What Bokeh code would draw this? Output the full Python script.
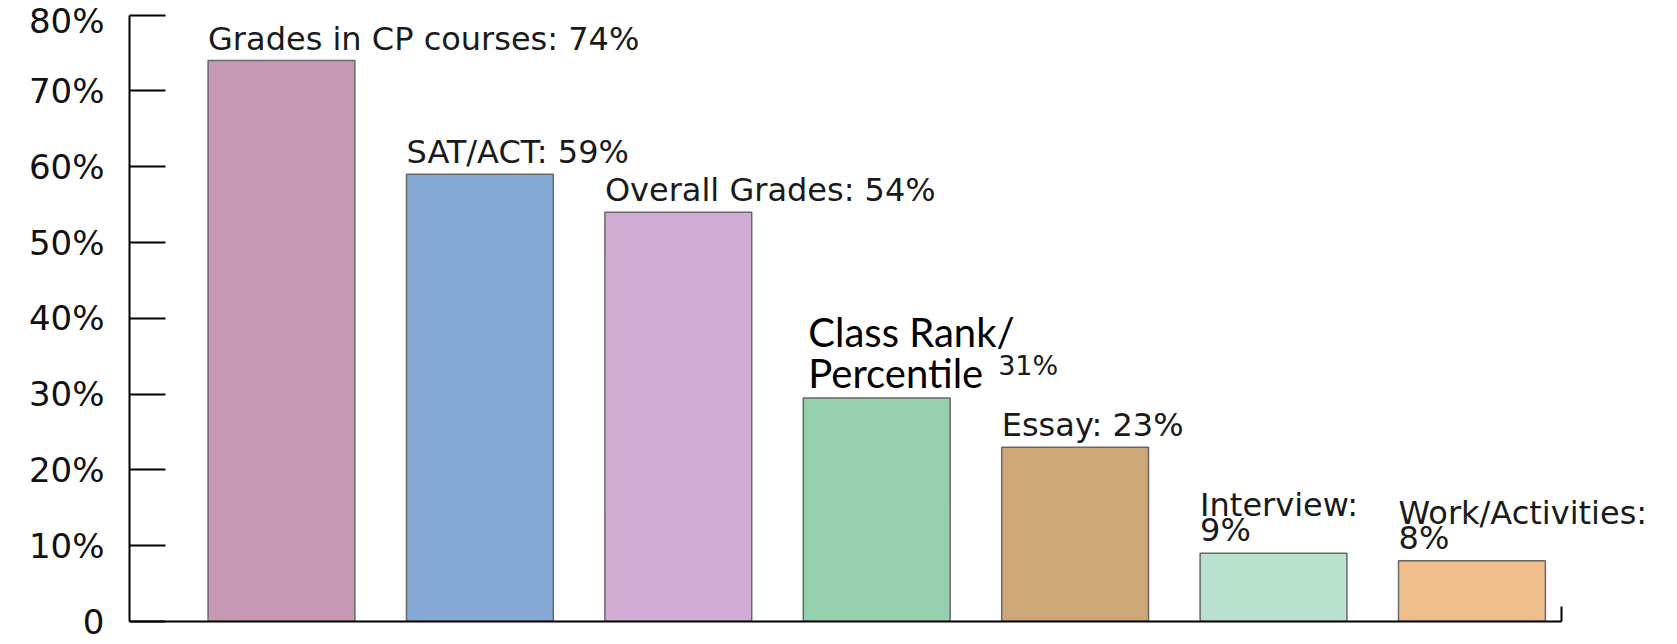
from bokeh.plotting import figure
from bokeh.models import Range1d, FixedTicker, ColumnDataSource, CustomJSTickFormatter
from bokeh.core.properties import value
from bokeh.embed import file_html
from bokeh.resources import INLINE

# ---- data -------------------------------------------------------------
categories = ["Grades in CP courses", "SAT/ACT", "Overall Grades",
              "Class Rank/Percentile", "Essay", "Interview", "Work/Activities"]
values = [74, 59, 54, 29.5, 23, 9, 8]
value_labels = ["74%", "59%", "54%", "31%", "23%", "9%", "8%"]
colors = ["#C69AB4", "#84A9D5", "#D1ACD5", "#95D1AF", "#CDA776", "#BAE1CD", "#EEBF8A"]
y_ticks = [0, 10, 20, 30, 40, 50, 60, 70, 80]
y_tick_labels = ["0", "10%", "20%", "30%", "40%", "50%", "60%", "70%", "80%"]

# ---- layout constants -------------------------------------------------
W, H = 1677, 644
BAR_W = 0.74
X_START, X_END = -0.766, 7.036
X_AXIS_END = 6.452
x = list(range(len(categories)))

p = figure(width=W, height=H, output_backend="svg", toolbar_location=None,
           x_range=Range1d(X_START, X_END), y_range=Range1d(0, 81.93),
           min_border_left=129, min_border_right=0, min_border_top=0,
           min_border_bottom=23, background_fill_color="white",
           border_fill_color="white")
p.outline_line_color = None
p.xgrid.visible = False
p.ygrid.visible = False

p.vbar(x=x, top=values, bottom=0, width=BAR_W, fill_color=colors,
       line_color="#686868", line_width=1.5)

# ---- labels -----------------------------------------------------------
lx, ly, lt, lo = [], [], [], []
for i, (cat, v, lab) in enumerate(zip(categories, values, value_labels)):
    left = i - BAR_W / 2
    if cat in ("Interview", "Work/Activities"):
        lx += [left, left]; ly += [v, v]
        lt += [cat + ":", lab]; lo += [-48, -23]
    elif cat == "Class Rank/Percentile":
        continue
    else:
        lx.append(left); ly.append(v); lt.append(f"{cat}: {lab}"); lo.append(-22)
src = ColumnDataSource(dict(x=lx, y=ly, text=lt, yo=lo))
p.text(x="x", y="y", text="text", y_offset="yo", source=src,
       text_font=value("DejaVu Sans"), text_font_size="32px",
       text_color="#1a1a1a", text_align="left", text_baseline="alphabetic")

ci = categories.index("Class Rank/Percentile")
first, second = categories[ci].split("/")
src2 = ColumnDataSource(dict(x=[ci - BAR_W / 2] * 2, y=[values[ci]] * 2,
                             text=[first + "/", second], yo=[-66, -25]))
p.text(x="x", y="y", text="text", y_offset="yo", x_offset=5, source=src2,
       text_font=value("Lato"), text_font_size="40px",
       text_color="black", text_align="left", text_baseline="alphabetic")
p.text(x=[ci + BAR_W / 2], y=[values[ci]], text=[value_labels[ci]],
       x_offset=48, y_offset=-32,
       text_font=value("DejaVu Sans"), text_font_size="27px",
       text_color="#1a1a1a", text_align="left", text_baseline="alphabetic")

# ---- axes -------------------------------------------------------------
ya = p.yaxis[0]
ya.ticker = FixedTicker(ticks=y_ticks)
ya.major_label_overrides = dict(zip(y_ticks, y_tick_labels))
ya.major_tick_in = 36
ya.major_tick_out = 0
ya.minor_tick_in = 0
ya.minor_tick_out = 0
ya.axis_line_width = 2
ya.major_tick_line_width = 2
ya.axis_line_color = "black"
ya.major_tick_line_color = "black"
ya.major_label_text_font = "DejaVu Sans"
ya.major_label_text_font_size = "34px"
ya.major_label_text_color = "#111111"
ya.major_label_standoff = 25
ya.bounds = (0, 80)

xa = p.xaxis[0]
xa.ticker = FixedTicker(ticks=[X_AXIS_END])
xa.formatter = CustomJSTickFormatter(code="return ''")
xa.major_tick_in = 15
xa.major_tick_out = 0
xa.minor_tick_in = 0
xa.minor_tick_out = 0
xa.axis_line_width = 2
xa.major_tick_line_width = 2
xa.axis_line_color = "black"
xa.major_tick_line_color = "black"
xa.major_label_standoff = 0
xa.bounds = (X_START, X_AXIS_END)

open("out.html", "w").write(file_html(p, INLINE))
